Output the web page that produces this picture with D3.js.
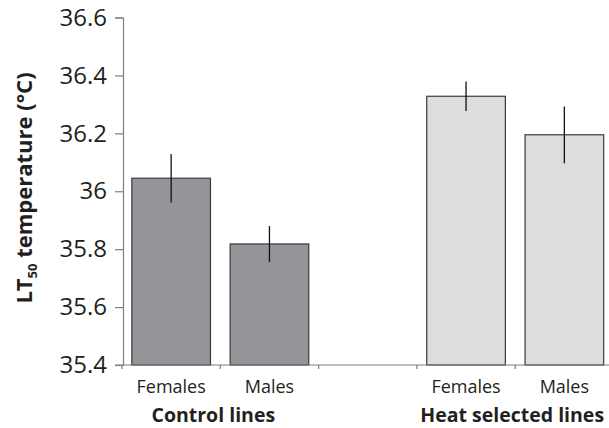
<!DOCTYPE html>
<html>
<head>
<meta charset="utf-8">
<script src="https://cdn.jsdelivr.net/npm/d3@7"></script>
<style>
  body { margin: 0; background: #fff; }
  text { font-family: "Open Sans", sans-serif; fill: #231f20; }
</style>
</head>
<body>
<div id="chart"></div>
<script>
// slots along the x axis (blank slot separates the two groups)
const slots = ["cF", "cM", "gap", "hF", "hM"];
const barKeys = ["cF", "cM", "hF", "hM"];
const barLabels = ["Females", "Males", "Females", "Males"];
const meanValues = [36.045, 35.818, 36.328, 36.195];
const errValues = [0.084, 0.062, 0.051, 0.098];
const barGroups = ["control", "control", "heat", "heat"];
const groupNames = ["Control lines", "Heat selected lines"];
const yTicks = [35.4, 35.6, 35.8, 36, 36.2, 36.4, 36.6];

const width = 609, height = 428;
const svg = d3.select("#chart").append("svg")
    .attr("width", width)
    .attr("height", height);

const x = d3.scaleBand().domain(slots).range([122, 613.5]).paddingInner(0).paddingOuter(0);
const y = d3.scaleLinear().domain([35.4, 36.6]).range([365, 17.5]);
const fill = { control: "#939598", heat: "#dcdddf" };

// bars
const bars = barKeys.map((k, i) => ({ key: k, label: barLabels[i], v: meanValues[i], e: errValues[i], g: barGroups[i] }));
const bw = x.bandwidth() * 0.8;

svg.append("g").selectAll("rect")
    .data(bars)
    .enter().append("rect")
    .attr("x", d => x(d.key) + (x.bandwidth() - bw) / 2)
    .attr("y", d => y(d.v))
    .attr("width", bw)
    .attr("height", d => y(35.4) - y(d.v))
    .attr("fill", d => fill[d.g])
    .attr("stroke", "#3a3a3a")
    .attr("stroke-width", 1.2);

// error bars
svg.append("g").selectAll("line")
    .data(bars)
    .enter().append("line")
    .attr("x1", d => x(d.key) + x.bandwidth() / 2)
    .attr("x2", d => x(d.key) + x.bandwidth() / 2)
    .attr("y1", d => y(d.v + d.e))
    .attr("y2", d => y(d.v - d.e))
    .attr("stroke", "#111")
    .attr("stroke-width", 1.3);

// y axis
const yAxis = svg.append("g")
    .attr("transform", "translate(123,0)")
    .call(d3.axisLeft(y).tickValues(yTicks).tickSize(8).tickPadding(8).tickFormat(d => d3.format("")(+d.toFixed(1))));
yAxis.select(".domain").attr("stroke", "#7f7f7f").attr("stroke-width", 1.2);
yAxis.selectAll(".tick line").attr("stroke", "#7f7f7f").attr("stroke-width", 1.2);
yAxis.selectAll(".tick text")
    .style("font-family", "'Open Sans', sans-serif")
    .style("font-size", "24px")
    .attr("fill", "#231f20");

// x axis
const xAxis = svg.append("g")
    .attr("transform", "translate(0,365)")
    .call(d3.axisBottom(x).tickSize(0).tickFormat(""));
xAxis.select(".domain").attr("stroke", "#7f7f7f").attr("stroke-width", 1.2)
    .attr("d", "M115,0H613.5");
xAxis.selectAll(".tick").remove();
xAxis.selectAll(".sep")
    .data(slots.concat(["end"]))
    .enter().append("line")
    .attr("x1", (d, i) => i < slots.length ? x(d) : x(slots[slots.length - 1]) + x.bandwidth())
    .attr("x2", (d, i) => i < slots.length ? x(d) : x(slots[slots.length - 1]) + x.bandwidth())
    .attr("y1", 0)
    .attr("y2", 4)
    .attr("stroke", "#7f7f7f")
    .attr("stroke-width", 1.2);

// category labels
svg.append("g").selectAll("text")
    .data(bars)
    .enter().append("text")
    .attr("x", d => x(d.key) + x.bandwidth() / 2)
    .attr("y", 393)
    .attr("text-anchor", "middle")
    .style("font-size", "18px")
    .text(d => d.label);

// group labels
const groupCenters = [
    (x("cF") + x("cM") + x.bandwidth()) / 2 - 7,
    (x("hF") + x("hM") + x.bandwidth()) / 2 - 3
];
svg.append("g").selectAll("text")
    .data(groupNames)
    .enter().append("text")
    .attr("x", (d, i) => groupCenters[i])
    .attr("y", 422)
    .attr("text-anchor", "middle")
    .style("font-size", "19.5px")
    .style("font-weight", "bold")
    .text(d => d);

// y axis title
const title = svg.append("text")
    .attr("transform", "translate(32,188) rotate(-90)")
    .attr("text-anchor", "middle")
    .style("font-size", "22px")
    .style("font-weight", "bold");
title.append("tspan").text("LT");
title.append("tspan").attr("dy", 5).style("font-size", "13px").text("50");
title.append("tspan").attr("dy", -5).text(" temperature (°C)");
</script>
</body>
</html>
